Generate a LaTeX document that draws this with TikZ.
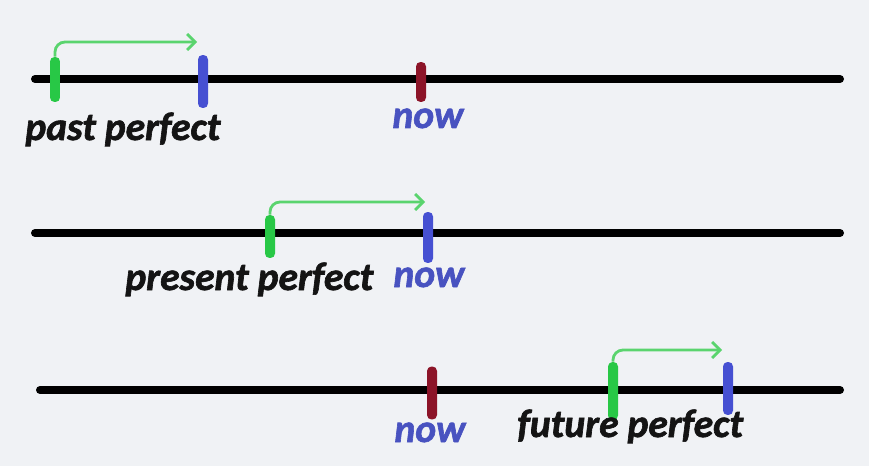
\documentclass[tikz,border=0pt]{standalone}
\usepackage{fontspec}
\newfontfamily\handfont[BoldItalicFeatures={FakeBold=1.6}]{Carlito}
\usetikzlibrary{arrows.meta,calc}

\definecolor{Paper}{RGB}{240,242,245}
\definecolor{EvGreen}{RGB}{40,200,70}
\definecolor{HookGreen}{RGB}{90,212,110}
\definecolor{RefBlue}{RGB}{70,80,210}
\definecolor{NowRed}{RGB}{140,20,40}
\definecolor{NowText}{RGB}{72,82,192}

\begin{document}
\begin{tikzpicture}[x=0.02cm,y=-0.02cm]

\tikzset{TimeLine/.style  = {line width=0.16cm, line cap=round, black},
         Tick/.style      = {fill=#1, draw=none, rounded corners=0.09cm,
                             minimum width=0.2cm, inner sep=0pt},
         Hook/.style      = {HookGreen, line width=1.6pt, rounded corners=0.2cm,
                             -{Straight Barb[length=4.5pt,width=9pt]}},
         TenseStyle/.style = {font=\handfont\bfseries\itshape\fontsize{22.5}{27}\selectfont,
                             text=black!92, inner sep=0pt, anchor=base west},
         NowStyle/.style  = {font=\handfont\bfseries\itshape\fontsize{22.5}{27}\selectfont,
                             text=NowText, inner sep=0pt, anchor=base}}

  \fill[Paper] (0,0) rectangle (869,466);

%%% past perfect

  \coordinate (L1w) at (35,79);
  \coordinate (L1e) at (840,79);
  \draw[TimeLine] (L1w) -- (L1e);

  \node[Tick=EvGreen, minimum height=0.9cm]  (e1) at (55,79.5) {};
  \node[Tick=RefBlue, minimum height=1.06cm] (r1) at (203,81.5) {};
  \node[Tick=NowRed,  minimum height=0.8cm]  (n1) at (421,82) {};

  \coordinate (a1) at (197,42);
  \draw[Hook] (e1.north) |- (a1);

  \node[TenseStyle] (t1) at (25,140) {past perfect};
  \node[NowStyle]   (w1) at (428,128) {now};

%%% present perfect

  \coordinate (L2w) at (35,233);
  \coordinate (L2e) at (840,233);
  \draw[TimeLine] (L2w) -- (L2e);

  \node[Tick=EvGreen, minimum height=0.86cm] (e2) at (270,236.5) {};
  \node[Tick=RefBlue, minimum height=1.02cm] (n2) at (428,237.5) {};

  \coordinate (a2) at (425,202);
  \draw[Hook] (e2.north) |- (a2);

  \node[TenseStyle] (t2) at (125,290) {present perfect};
  \node[NowStyle]   (w2) at (429,287) {now};

%%% future perfect

  \coordinate (L3w) at (40,390);
  \coordinate (L3e) at (840,390);
  \draw[TimeLine] (L3w) -- (L3e);

  \node[Tick=NowRed,  minimum height=1.06cm] (n3) at (432,393) {};
  \node[Tick=EvGreen, minimum height=1.16cm] (e3) at (613,391) {};
  \node[Tick=RefBlue, minimum height=1.06cm] (r3) at (728,388.5) {};

  \coordinate (a3) at (722,350);
  \draw[Hook] (e3.north) |- (a3);

  \node[TenseStyle] (t3) at (517,437) {future perfect};
  \node[NowStyle]   (w3) at (430,442) {now};

\end{tikzpicture}
\end{document}
